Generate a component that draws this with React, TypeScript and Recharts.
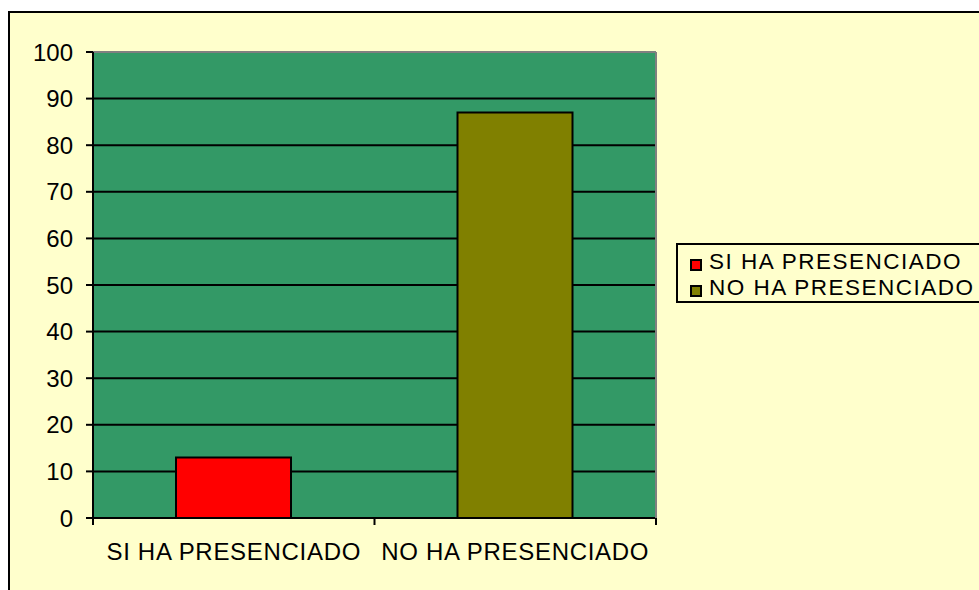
import {
  BarChart,
  Bar,
  Cell,
  CartesianGrid,
  XAxis,
  YAxis,
  Legend,
  ReferenceLine,
} from "recharts";

const categories = ["SI HA PRESENCIADO", "NO HA PRESENCIADO"];
const values = [13, 87];
const barColors = ["#FF0000", "#808000"];
const yTicks = [0, 10, 20, 30, 40, 50, 60, 70, 80, 90, 100];
const boundaryTicks = [0, 1, 2];

const data = categories.map((name, i) => ({ name, value: values[i], pos: i + 0.5 }));

const FONT = '"Liberation Sans", Arial, sans-serif';

// tick marks only, no labels (category boundaries like the original)
const NoLabel = () => <g />;

function LegendBox() {
  return (
    <div
      style={{
        border: "2px solid #000",
        background: "#FFFFCC",
        width: 320,
        padding: "4px 0 1px 12px",
        boxSizing: "border-box",
        fontFamily: FONT,
        fontSize: 22.5,
        lineHeight: "25.5px",
        letterSpacing: 1.5,
        color: "#000",
      }}
    >
      {categories.map((c, i) => (
        <div key={c} style={{ position: "relative", height: 25.5, paddingLeft: 19, whiteSpace: "nowrap" }}>
          <span
            style={{
              position: "absolute",
              left: 0,
              top: 10,
              width: 12,
              height: 12,
              boxSizing: "border-box",
              background: barColors[i],
              border: "2px solid #000",
            }}
          />
          {c}
        </div>
      ))}
    </div>
  );
}

export default function App() {
  return (
    <div
      style={{
        position: "absolute",
        left: 8,
        top: 11,
        width: 971,
        height: 579,
        borderLeft: "2px solid #000",
        borderTop: "2px solid #000",
        background: "#FFFFCC",
        boxSizing: "border-box",
        overflow: "hidden",
      }}
    >
      <BarChart
        width={969}
        height={577}
        data={data}
        margin={{ top: 39, right: 322, left: 0, bottom: 12 }}
      >
        <CartesianGrid vertical={false} fill="#339966" stroke="#000" strokeWidth={2} strokeOpacity={1} />
        <XAxis
          type="number"
          dataKey="pos"
          domain={[0, 2]}
          ticks={boundaryTicks}
          interval={0}
          tick={NoLabel}
          height={1}
          tickSize={7}
          axisLine={{ stroke: "#000", strokeWidth: 2 }}
          tickLine={{ stroke: "#000", strokeWidth: 2 }}
        />
        <XAxis
          xAxisId="cat"
          dataKey="name"
          height={59}
          tickSize={0}
          tickMargin={24}
          axisLine={false}
          tickLine={false}
          tick={{ fill: "#000", fontSize: 24, fontFamily: FONT, letterSpacing: 0.7 }}
        />
        <YAxis
          width={83}
          domain={[0, 100]}
          ticks={yTicks}
          interval={0}
          tickSize={7}
          tickMargin={13}
          axisLine={{ stroke: "#000", strokeWidth: 2 }}
          tickLine={{ stroke: "#000", strokeWidth: 2 }}
          tick={{ fill: "#000", fontSize: 24, fontFamily: FONT }}
        />
        <YAxis
          yAxisId="r"
          orientation="right"
          width={1}
          domain={[0, 100]}
          tick={false}
          tickLine={false}
          axisLine={{ stroke: "#808080", strokeWidth: 2 }}
        />
        <ReferenceLine y={100} stroke="#808080" strokeWidth={2} />
        <Legend
          layout="vertical"
          align="center"
          verticalAlign="middle"
          wrapperStyle={{ left: 666, top: 230, width: 320 }}
          content={() => <LegendBox />}
        />
        <Bar
          dataKey="value"
          xAxisId="cat"
          barSize={115}
          stroke="#000"
          strokeWidth={2}
          isAnimationActive={false}
        >
          {data.map((d, i) => (
            <Cell key={d.name} fill={barColors[i]} />
          ))}
        </Bar>
      </BarChart>
    </div>
  );
}
